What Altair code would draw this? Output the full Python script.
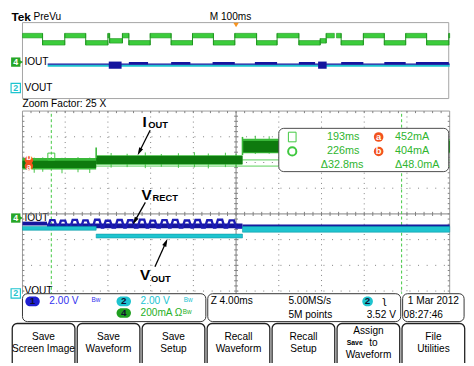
import math
import pandas as pd
import altair as alt

# ================= values =================
# Zoom window (Z 4.00 ms/div), times in ms after the trigger
cursor_t_ms = [193.0, 225.8]          # square / circle time cursors
cursor_i_mA = [452, 404]              # horizontal cursors
cursor_i_letters = ["b", "a"]         # badge letters as drawn (upper, lower)
cursor_marker_mA = 478                # square marker on cursor 1

readout_t = ["193ms", "226ms", "Δ32.8ms"]
readout_i = ["452mA", "404mA", "Δ48.0mA"]
readout_letters = ["a", "b"]

# IOUT (ch4, 200 mA/div) envelope per segment
iout_start_ms = [190.3, 197.2, 210.9]
iout_end_ms = [197.2, 210.9, 230.3]
iout_min_mA = [377, 414, 504]
iout_max_mA = [466, 489, 616]
iout_core_min_mA = [390, 421, 512]
iout_core_max_mA = [446, 482, 600]
iout_step_ms = [197.2, 210.9]
iout_step_peak_mA = [549, 631]
# a few noise spikes on the IOUT envelope
iout_noise_ms = [191.4, 192.2, 194.0, 195.5, 196.6, 198.6, 200.1, 201.8, 203.3, 204.9,
                 206.4, 207.7, 209.3, 210.3, 212.1, 213.4]
iout_noise_lo_mA = [352, 360, 348, 356, 350, 392, 396, 388, 398, 390,
                    394, 386, 396, 392, 498, 500]
iout_noise_hi_mA = [470, 472, 468, 474, 470, 506, 500, 510, 498, 504,
                    512, 502, 508, 500, 640, 636]

# VOUT (ch2, 2 V/div)
vout_start_ms = [190.3, 197.2, 210.9]
vout_end_ms = [197.2, 210.9, 230.3]
vout_min_V = [4.91, 4.31, 4.76]
vout_max_V = [5.21, 4.61, 5.21]

# VRECT (ch1, 2 V/div)
vrect_start_ms = [190.3, 192.6, 210.9]
vrect_end_ms = [192.6, 210.9, 230.3]
vrect_min_V = [5.28, 5.06, 5.13]
vrect_max_V = [5.58, 5.43, 5.36]
ripple_ms = [193.1, 194.1, 195.2, 196.2, 197.3, 198.3, 199.4, 200.4, 201.5,
             202.5, 203.6, 204.6, 205.7, 206.7, 207.8, 208.8, 209.9]
ripple_peak_V = [5.70, 5.66, 5.72, 5.68, 5.73, 5.65, 5.71, 5.69, 5.74,
                 5.66, 5.70, 5.72, 5.67, 5.71, 5.69, 5.73, 5.68]
ripple_base_V = 5.12

# Overview record (M 100 ms/div), ms relative to trigger
ov_edges_ms = [-500, -453, -401, -352, -300, -296, -266, -251, -201, -152, -102, -53, -3,
               48, 96, 147, 197, 211, 230, 235, 246, 298, 347, 397, 446, 498, 500]
ov_iout_mA = [558, 406, 558, 406, 558, 448, 558, 406, 558, 406, 558, 406, 558,
              406, 558, 406, 448, 558, None, 558, 406, 558, 406, 558, 406, 558]
ov_vout_span_ms = [-441, 500]
ov_vout_V = [4.86, 5.35]
ov_vrect_V = 5.45
ov_ripple_start_ms = [-298, -251, -152, -55, 44, 147, 192, 246, 347, 421]
ov_ripple_end_ms = [-268, -206, -107, -3, 96, 185, 212, 298, 397, 498]
ov_ripple_min_V = [4.46, 5.37, 5.37, 5.37, 5.37, 5.37, 4.46, 5.37, 5.37, 5.37]
ov_ripple_max_V = [5.97, 5.88, 5.88, 5.88, 5.88, 5.88, 5.97, 5.88, 5.88, 5.88]
trigger_ms = 0

# status texts
ch_scale = ["2.00 V", "2.00 V", "200mA Ω"]
timebase = "Z 4.00ms"
sample_rate = "5.00MS/s"
record_len = "5M points"
trig_level = "3.52 V"
date_str = "1 Mar 2012"
time_str = "08:27:46"
buttons = [["Save", "Screen Image"], ["Save", "Waveform"], ["Save", "Setup"],
           ["Recall", "Waveform"], ["Recall", "Setup"], ["Assign", "", "Waveform"],
           ["File", "Utilities"]]

# ================= layout / style =================
REF_W, REF_H = 474, 366          # reference picture frame
W, H = 466, 358                  # drawable area inside the 8px page margin
FONT = "Liberation Sans, Arial, sans-serif"
FONT_ANN = "Liberation Sans, Arial, sans-serif"
FS = 10.3
GREEN_HI = "#3ccc3c"
GREEN_DK = "#0e7a0e"
GREEN_TX = "#2fb52f"
CYAN = "#1ec4cf"
BLUE = "#15159e"
ORANGE = "#f2521d"
GRID = "#808080"

MA_PER_DIV, V_PER_DIV = 200.0, 2.0
CH4_POS, CH12_POS = -0.16, -3.09

# main graticule (reference pixels)
PLOT_L, CENTER_Y = 12, 211
DIV_PX_X, DIV_PX_Y = 44.5, 26.75
MS_PER_DIV, T_LEFT = 4.0, 190.3
PX_MS = DIV_PX_X / MS_PER_DIV
T_RIGHT = T_LEFT + 10 * MS_PER_DIV
T_MID = T_LEFT + 5 * MS_PER_DIV

# overview graticule
OV_CX, OV_PX_MS, OV_CY, OV_DIV_PX = 234.5, 0.445, 51.5, 9.875

SX = alt.Scale(domain=[0, REF_W], nice=False, zero=False)
SY = alt.Scale(domain=[0, REF_H], nice=False, zero=False, reverse=True)
MX = alt.Scale(domain=[T_LEFT - PLOT_L / PX_MS, T_LEFT + (REF_W - PLOT_L) / PX_MS], nice=False, zero=False)
MY = alt.Scale(domain=[(CENTER_Y - REF_H) / DIV_PX_Y, CENTER_Y / DIV_PX_Y], nice=False, zero=False)
OX = alt.Scale(domain=[-OV_CX / OV_PX_MS, (REF_W - OV_CX) / OV_PX_MS], nice=False, zero=False)
OY = alt.Scale(domain=[(OV_CY - REF_H) / OV_DIV_PX, OV_CY / OV_DIV_PX], nice=False, zero=False)


def mA_div(v):
    return v / MA_PER_DIV + CH4_POS


def V_div(v):
    return v / V_PER_DIV + CH12_POS


def rects(rows, xs=SX, ys=SY, **mk):
    df = pd.DataFrame(rows, columns=["x", "x2", "y", "y2"])
    return alt.Chart(df).mark_rect(**mk).encode(
        x=alt.X("x:Q", scale=xs, axis=None), x2="x2:Q",
        y=alt.Y("y:Q", scale=ys, axis=None), y2="y2:Q")


def vrules(rows, xs=SX, ys=SY, **mk):
    df = pd.DataFrame(rows, columns=["x", "y", "y2"])
    return alt.Chart(df).mark_rule(**mk).encode(
        x=alt.X("x:Q", scale=xs, axis=None),
        y=alt.Y("y:Q", scale=ys, axis=None), y2="y2:Q")


def hrules(rows, xs=SX, ys=SY, **mk):
    df = pd.DataFrame(rows, columns=["x", "x2", "y"])
    return alt.Chart(df).mark_rule(**mk).encode(
        x=alt.X("x:Q", scale=xs, axis=None), x2="x2:Q",
        y=alt.Y("y:Q", scale=ys, axis=None))


def texts(rows, xs=SX, ys=SY, **mk):
    df = pd.DataFrame(rows, columns=["x", "y", "text"])
    mk.setdefault("font", FONT)
    mk.setdefault("baseline", "middle")
    return alt.Chart(df).mark_text(**mk).encode(
        x=alt.X("x:Q", scale=xs, axis=None),
        y=alt.Y("y:Q", scale=ys, axis=None), text="text:N")


def points(rows, xs=SX, ys=SY, **mk):
    df = pd.DataFrame(rows, columns=["x", "y"])
    return alt.Chart(df).mark_point(**mk).encode(
        x=alt.X("x:Q", scale=xs, axis=None),
        y=alt.Y("y:Q", scale=ys, axis=None))


L = []

# ---------------- top bar + overview ----------------
L.append(texts([(0.5, 6.5, "Tek")], fontSize=12, fontWeight="bold", align="left", color="black"))
L.append(texts([(23.5, 6.5, "PreVu"), (207, 6.5, "M 100ms")], fontSize=FS, align="left", color="black"))
L.append(rects([(12, 456, 12, 91)], fillOpacity=0, stroke="#a3a3a3", strokeWidth=1))
L.append(points([(trigger_ms, 14.5)], OX, SY, shape="triangle-down", filled=True, size=30,
                color="#f7931e", opacity=1))

ov = pd.DataFrame({"x": ov_edges_ms[:-1], "x2": ov_edges_ms[1:], "mA": ov_iout_mA})
ov_ok = ov.dropna()
L.append(rects([(r.x, r.x2, mA_div(r.mA - 48), mA_div(r.mA + 48)) for r in ov_ok.itertuples()],
               OX, OY, color=GREEN_HI, stroke="#1f951f", strokeWidth=0.6))
trans = []
for i in range(1, len(ov_iout_mA)):
    a, b = ov_iout_mA[i - 1], ov_iout_mA[i]
    if a is not None and b is not None:
        trans.append((ov_edges_ms[i], mA_div(min(a, b) - 48), mA_div(max(a, b) + 48)))
L.append(vrules(trans, OX, OY, color="#1f951f", strokeWidth=1))

L.append(rects([(ov_vout_span_ms[0], ov_vout_span_ms[1], V_div(ov_vout_V[0]), V_div(ov_vout_V[1]))],
               OX, OY, color=CYAN))
L.append(hrules([(ov_vout_span_ms[0], ov_vout_span_ms[1], V_div(ov_vrect_V))], OX, OY,
                color=BLUE, strokeWidth=1.2))
L.append(rects([(s, e, V_div(lo), V_div(hi)) for s, e, lo, hi in
                zip(ov_ripple_start_ms, ov_ripple_end_ms, ov_ripple_min_V, ov_ripple_max_V)],
               OX, OY, color=BLUE))

ov_ch4_y = OV_CY - CH4_POS * OV_DIV_PX
ov_ch2_y = OV_CY - CH12_POS * OV_DIV_PX - 2
main_ch4_y = CENTER_Y - CH4_POS * DIV_PX_Y
main_ch2_y = CENTER_Y - CH12_POS * DIV_PX_Y

# channel labels at the left edge
L.append(points([(10.5, ov_ch4_y), (10.5, main_ch4_y)], shape="triangle-right", filled=True, size=22,
                color="#27a627", opacity=1))
L.append(points([(5, ov_ch4_y), (5, main_ch4_y)], shape="square", filled=True, size=90,
                color="#27a627", opacity=1))
L.append(texts([(5, ov_ch4_y, "4"), (5, main_ch4_y, "4")], fontSize=9, fontWeight="bold",
               color="white", align="center"))
L.append(texts([(14, ov_ch4_y, "IOUT"), (14, main_ch4_y - 0.5, "IOUT"),
                (14, ov_ch2_y, "VOUT"), (14, main_ch2_y - 2, "VOUT")],
               fontSize=10.3, align="left", color="black"))
L.append(points([(5, ov_ch2_y)], shape="square", filled=True, size=90, color="white",
                stroke=CYAN, strokeWidth=1.2, opacity=1))
L.append(texts([(5, ov_ch2_y, "2")], fontSize=9, fontWeight="bold", color=CYAN, align="center"))

L.append(texts([(12, 97, "Zoom Factor: 25 X")], fontSize=FS, align="left", color="black"))

# ---------------- main graticule ----------------
L.append(vrules([(T_LEFT + k * MS_PER_DIV, -4, 4) for k in (1, 2, 3, 4, 6, 7, 8, 9)], MX, MY,
                color=GRID, strokeWidth=1, strokeDash=[1, 4.2]))
L.append(hrules([(T_LEFT, T_RIGHT, d) for d in (3, 2, 1, -1, -2, -3)], MX, MY,
                color=GRID, strokeWidth=1, strokeDash=[1, 7.75]))
L.append(rects([(T_LEFT, T_RIGHT, -4, 4)], MX, MY, fillOpacity=0, stroke="#9a9a9a", strokeWidth=1))
L.append(vrules([(T_MID, -4, 4)], MX, MY, color=GRID, strokeWidth=1))
L.append(hrules([(T_LEFT, T_RIGHT, 0)], MX, MY, color=GRID, strokeWidth=1))
tick_t = [T_LEFT + j * MS_PER_DIV / 5 for j in range(1, 50)]
tick_d = [-4 + j * 0.2 for j in range(1, 40)]
L.append(vrules([(t, -0.08, 0.08) for t in tick_t] + [(t, 3.92, 4) for t in tick_t], MX, MY,
                color=GRID, strokeWidth=1))
L.append(hrules([(T_MID - 0.18, T_MID + 0.18, d) for d in tick_d] +
                [(T_LEFT, T_LEFT + 0.18, d) for d in tick_d] +
                [(T_RIGHT - 0.18, T_RIGHT, d) for d in tick_d], MX, MY, color=GRID, strokeWidth=1))

# cursors
L.append(vrules([(t, -4, 4) for t in cursor_t_ms], MX, MY, color="#3fc83f", strokeWidth=1,
                strokeDash=[3, 2.5]))
L.append(hrules([(T_LEFT, T_RIGHT, mA_div(v)) for v in cursor_i_mA], MX, MY,
                color="#58d058", strokeWidth=1))

# ---------------- traces ----------------
L.append(rects([(s, e, V_div(lo), V_div(hi)) for s, e, lo, hi in
                zip(vrect_start_ms, vrect_end_ms, vrect_min_V, vrect_max_V)], MX, MY, color=BLUE))
rp = [(vrect_start_ms[1], ripple_base_V)]
for c, p in zip(ripple_ms, ripple_peak_V):
    rp += [(c - 0.42, ripple_base_V), (c - 0.2, p), (c + 0.2, p), (c + 0.42, ripple_base_V)]
rp.append((vrect_end_ms[1], ripple_base_V))
rp_df = pd.DataFrame({"t": [q[0] for q in rp], "d": [V_div(q[1]) for q in rp], "o": range(len(rp))})
L.append(alt.Chart(rp_df).mark_line(color="#1c1cb4", strokeWidth=2.4).encode(
    x=alt.X("t:Q", scale=MX, axis=None), y=alt.Y("d:Q", scale=MY, axis=None), order="o:Q"))
L.append(rects([(s, e, V_div(lo), V_div(hi)) for s, e, lo, hi in
                zip(vout_start_ms, vout_end_ms, vout_min_V, vout_max_V)], MX, MY,
               color=CYAN, stroke="#0f9aa6", strokeWidth=0.6))
L.append(vrules([(t, mA_div(lo), mA_div(hi)) for t, lo, hi in
                 zip(iout_noise_ms, iout_noise_lo_mA, iout_noise_hi_mA)], MX, MY,
                color="#45c445", strokeWidth=1))
L.append(rects([(s, e, mA_div(lo), mA_div(hi)) for s, e, lo, hi in
                zip(iout_start_ms, iout_end_ms, iout_min_mA, iout_max_mA)], MX, MY, color="#39b839"))
L.append(rects([(s, e, mA_div(lo), mA_div(hi)) for s, e, lo, hi in
                zip(iout_start_ms, iout_end_ms, iout_core_min_mA, iout_core_max_mA)], MX, MY,
               color=GREEN_DK))
L.append(vrules([(t, mA_div(iout_max_mA[i]), mA_div(pk)) for i, (t, pk) in
                 enumerate(zip(iout_step_ms, iout_step_peak_mA))], MX, MY, color="#39b839",
                strokeWidth=1.6))

L.append(points([(cursor_t_ms[0], mA_div(cursor_marker_mA))], MX, MY, shape="square", size=50,
                filled=False, color="#3fc83f", strokeWidth=1, opacity=1))
L.append(points([(T_LEFT + 0.6, mA_div(cursor_i_mA[0]))], MX, MY, shape="circle", size=75,
                filled=True, color=ORANGE, opacity=1, dy=-2.5))
L.append(points([(T_LEFT + 0.6, mA_div(cursor_i_mA[1]))], MX, MY, shape="circle", size=75,
                filled=True, color=ORANGE, opacity=1, dy=1))
L.append(texts([(T_LEFT + 0.6, mA_div(cursor_i_mA[0]), cursor_i_letters[0])], MX, MY, fontSize=9,
               fontWeight="bold", color="white", align="center", dy=-3))
L.append(texts([(T_LEFT + 0.6, mA_div(cursor_i_mA[1]), cursor_i_letters[1])], MX, MY, fontSize=9,
               fontWeight="bold", color="white", align="center", dy=0.5))

# ---------------- annotations ----------------
arrows = [(145, 124, 132, 150), (140, 199, 127, 222), (150, 266, 163, 237)]
seg, heads = [], []
for i, (x0, y0, x1, y1) in enumerate(arrows):
    ln = math.hypot(x1 - x0, y1 - y0)
    ux, uy = (x1 - x0) / ln, (y1 - y0) / ln
    seg += [(x0, y0, i, 0), (x1 - 4 * ux, y1 - 4 * uy, i, 1)]
    heads.append((x1 - 4 * ux, y1 - 4 * uy, math.degrees(math.atan2(ux, -uy)) % 360))
seg_df = pd.DataFrame(seg, columns=["x", "y", "g", "o"])
L.append(alt.Chart(seg_df).mark_line(color="black", strokeWidth=1.3).encode(
    x=alt.X("x:Q", scale=SX, axis=None), y=alt.Y("y:Q", scale=SY, axis=None),
    detail="g:N", order="o:Q"))
head_df = pd.DataFrame(heads, columns=["x", "y", "a"])
L.append(alt.Chart(head_df).mark_point(shape="M0,-1L0.55,1L-0.55,1Z", filled=True, size=64,
                                       color="black", opacity=1).encode(
    x=alt.X("x:Q", scale=SX, axis=None), y=alt.Y("y:Q", scale=SY, axis=None),
    angle=alt.Angle("a:Q", scale=None)))
L.append(texts([(137, 121, "I"), (136, 197, "V"), (134.5, 279.5, "V")], font=FONT_ANN,
               fontSize=15.5, fontWeight="bold", align="left", baseline="alphabetic", color="black"))
L.append(texts([(143, 122, "OUT"), (147.5, 198, "RECT"), (146, 282, "OUT")], font=FONT_ANN,
               fontSize=9.5, fontWeight="bold", align="left", baseline="alphabetic", color="black"))

# ---------------- cursor readout box ----------------
L.append(rects([(279, 456, 122, 167)], color="white", stroke="#4a4a4a", strokeWidth=1, cornerRadius=5))
L.append(rects([(289, 297, 126, 136)], fillOpacity=0, stroke="#3fc83f", strokeWidth=1))
L.append(points([(293, 146)], shape="circle", size=70, filled=False, color="#3fc83f", opacity=1))
L.append(texts([(346, 131, readout_t[0]), (346, 146, readout_t[1]), (345, 160, readout_t[2])],
               fontSize=11, align="center", color=GREEN_TX))
L.append(texts([(400, 131, readout_i[0]), (400, 146, readout_i[1]), (400, 160, readout_i[2])],
               fontSize=11, align="left", color=GREEN_TX))
L.append(points([(383, 131), (383, 146)], shape="circle", size=95, filled=True, color=ORANGE, opacity=1))
L.append(texts([(383, 131, readout_letters[0]), (383, 146, readout_letters[1])], fontSize=9.5,
               fontWeight="bold", color="white", align="center"))

# ---------------- bottom status panel ----------------
L.append(rects([(0, REF_W, 294, REF_H)], color="white"))
L.append(points([(5, main_ch2_y)], shape="square", filled=True, size=90, color="white",
                stroke=CYAN, strokeWidth=1.2, opacity=1))
L.append(texts([(5, main_ch2_y, "2")], fontSize=9, fontWeight="bold", color=CYAN, align="center"))
L.append(rects([(12, 203, 294, 323), (205, 406, 294, 323), (408, 472, 294, 323)],
               color="white", stroke="#333333", strokeWidth=1, cornerRadius=5))
L.append(rects([(15, 30, 297, 307)], color="#1f1fd0", cornerRadius=5))
L.append(rects([(110, 125, 297, 307), (366, 377, 297, 307)], color=CYAN, cornerRadius=5))
L.append(rects([(110, 125, 309, 319)], color="#1f9f1f", cornerRadius=5))
L.append(texts([(22.5, 302, "1"), (117.5, 302, "2"), (117.5, 314, "4"), (371.5, 302, "2")],
               fontSize=10, fontWeight="bold", align="center", color="#101030"))
L.append(texts([(40, 302, ch_scale[0])], fontSize=FS, align="left", color="#3232ee"))
L.append(texts([(135, 302, ch_scale[1])], fontSize=FS, align="left", color="#19c3d2"))
L.append(texts([(135, 314, ch_scale[2])], fontSize=FS, align="left", color="#25b025"))
L.append(texts([(84, 301, "Bw")], fontSize=6.5, align="left", color="#3232ee"))
L.append(texts([(180, 301, "Bw")], fontSize=6.5, align="left", color="#19c3d2"))
L.append(texts([(179, 313, "Bw")], fontSize=6.5, align="left", color="#25b025"))
L.append(texts([(208, 302, timebase), (289, 302, sample_rate), (289, 316, record_len),
                (409, 316, time_str)], fontSize=FS, align="left", color="black"))
L.append(texts([(401, 316, trig_level)], fontSize=FS, align="right", color="black"))
L.append(texts([(440, 302, date_str)], fontSize=FS, align="center", color="black"))
L.append(texts([(389, 302, "ʅ")], fontSize=11, align="center", color="black"))

# buttons on a band scale
keys = [f"b{i}" for i in range(len(buttons))]
BX = alt.Scale(domain=keys, paddingInner=0.035, paddingOuter=0.02)
bdf = pd.DataFrame({"k": keys, "y": [325] * len(keys), "y2": [380] * len(keys)})
L.append(alt.Chart(bdf).mark_bar(color="white", stroke="#202020", strokeWidth=1.3, cornerRadius=5,
                                 clip=True).encode(
    x=alt.X("k:N", scale=BX, axis=None), y=alt.Y("y:Q", scale=SY, axis=None), y2="y2:Q"))
rows = []
for k, lines in zip(keys, buttons):
    ys = [339, 352] if len(lines) == 2 else [333, 345.5, 358]
    for yy, tx in zip(ys, lines):
        if tx:
            rows.append((k, yy, tx))
tdf = pd.DataFrame(rows, columns=["k", "y", "text"])
L.append(alt.Chart(tdf).mark_text(font=FONT, fontSize=FS, color="black", baseline="middle").encode(
    x=alt.X("k:N", scale=BX, axis=None), y=alt.Y("y:Q", scale=SY, axis=None), text="text:N"))
sdf = pd.DataFrame({"k": [keys[5]], "y": [345.5], "a": ["Save"], "b": ["to"]})
L.append(alt.Chart(sdf).mark_text(font=FONT, fontSize=7, fontWeight="bold", color="black",
                                  baseline="middle", dx=-14).encode(
    x=alt.X("k:N", scale=BX, axis=None), y=alt.Y("y:Q", scale=SY, axis=None), text="a:N"))
L.append(alt.Chart(sdf).mark_text(font=FONT, fontSize=FS, color="black", baseline="middle",
                                  dx=5).encode(
    x=alt.X("k:N", scale=BX, axis=None), y=alt.Y("y:Q", scale=SY, axis=None), text="b:N"))

chart = alt.layer(*L).resolve_scale(x="independent", y="independent").properties(
    width=W, height=H, padding=0, background="white",
    autosize=alt.AutoSizeParams(type="fit", contains="padding"),
).configure_view(strokeWidth=0)

chart.save("out.html", embed_options={"renderer": "svg", "actions": False})
